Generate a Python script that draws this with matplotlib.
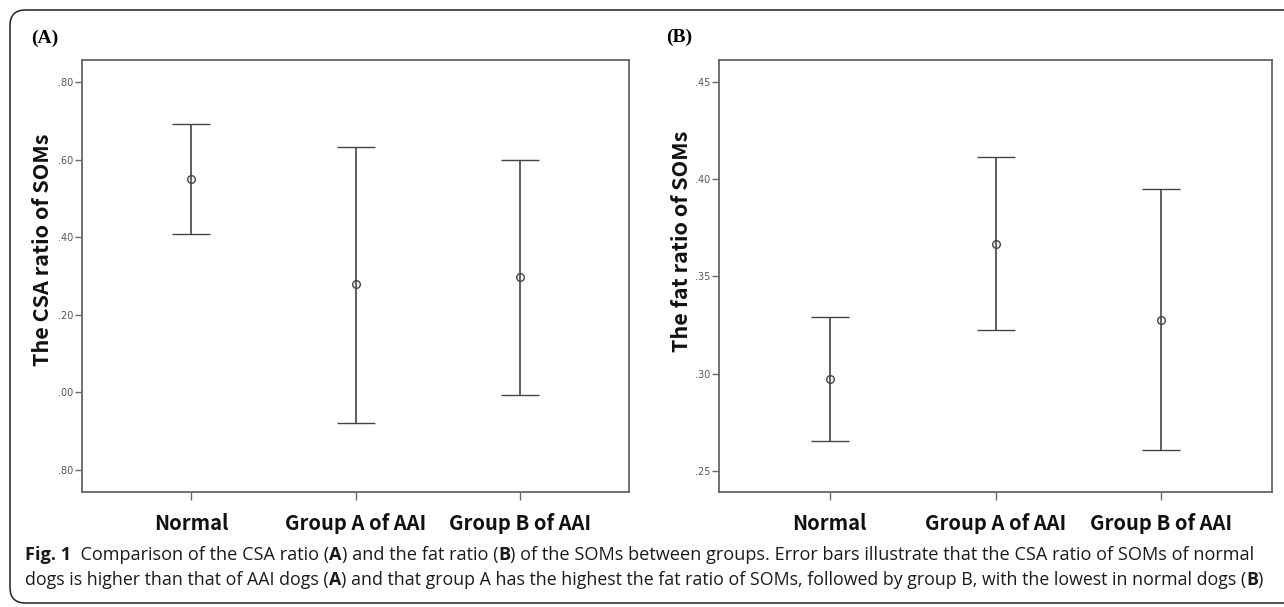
import numpy as np
import matplotlib
matplotlib.use('Agg')
import matplotlib.pyplot as plt
from matplotlib.patches import FancyBboxPatch

groups = ['Normal', 'Group A of AAI', 'Group B of AAI']

# panel A: CSA ratio (mean, lower, upper of the error bar)
csa_mean = [0.550, 0.279, 0.297]
csa_low = [0.408, -0.079, -0.007]
csa_high = [0.692, 0.632, 0.599]
csa_ticks = [-0.20, 0.00, 0.20, 0.40, 0.60, 0.80]
csa_ticklabels = ['.80', '.00', '.20', '.40', '.60', '.80']

# panel B: fat ratio
fat_mean = [0.2974, 0.3666, 0.3277]
fat_low = [0.2656, 0.3226, 0.2610]
fat_high = [0.3293, 0.4113, 0.3949]
fat_ticks = [0.25, 0.30, 0.35, 0.40, 0.45]
fat_ticklabels = ['.25', '.30', '.35', '.40', '.45']

W, H = 1284, 607
fig = plt.figure(figsize=(W / 100, H / 100), dpi=100)

# outer rounded frame
frame = FancyBboxPatch((10 / W, 4 / H), 1.2, (H - 14) / H,
                       boxstyle='round,pad=0,rounding_size=0.012',
                       transform=fig.transFigure, fill=False,
                       ec='#222222', lw=1.1, mutation_aspect=W / H)
fig.patches.append(frame)

box_col = '#666666'
bar_col = '#444444'
label_font = ['Noto Sans CJK KR', 'DejaVu Sans']


def panel(rect, mean, low, high, ticks, ticklabels, ylim):
    ax = fig.add_axes(rect)
    x = np.arange(len(groups))
    m = np.array(mean)
    yerr = [m - np.array(low), np.array(high) - m]
    ax.errorbar(x, m, yerr=yerr, fmt='o', ms=5.5, mfc='none', mec=bar_col,
                mew=1.0, ecolor=bar_col, elinewidth=1.2, capsize=13.5,
                capthick=1.2)
    ax.set_xlim(-0.6667, 2.6667)
    ax.set_ylim(*ylim)
    ax.set_yticks(ticks)
    ax.set_yticklabels(ticklabels, fontsize=7, color='#555555',
                       family='Liberation Sans Narrow')
    ax.set_xticks(x)
    ax.set_xticklabels(groups, fontsize=14.5, fontweight='bold',
                       family=label_font, color='#111111')
    ax.tick_params(axis='y', length=5, width=1.0, color=box_col, pad=1)
    ax.tick_params(axis='x', length=6, width=1.0, color=box_col, pad=9)
    for s in ax.spines.values():
        s.set_color(box_col)
        s.set_linewidth(1.3)
    return ax


panel([82 / W, 1 - 492 / H, 547 / W, 432 / H], csa_mean, csa_low, csa_high,
      csa_ticks, csa_ticklabels, (-0.257, 0.857))
panel([719 / W, 1 - 492 / H, 553 / W, 432 / H], fat_mean, fat_low, fat_high,
      fat_ticks, fat_ticklabels, (0.2392, 0.4613))

fig.text(45 / W, 1 - 38 / H, '(A)', ha='center', va='center', fontsize=14,
         fontweight='bold', family='Liberation Serif')
fig.text(679 / W, 1 - 37 / H, '(B)', ha='center', va='center', fontsize=14,
         fontweight='bold', family='Liberation Serif')

fig.text(43 / W, 1 - 250 / H, 'The CSA ratio of SOMs', rotation=90,
         ha='center', va='center', fontsize=15.5, fontweight='bold',
         family=label_font, color='#111111')
fig.text(681 / W, 1 - 241 / H, 'The fat ratio of SOMs', rotation=90,
         ha='center', va='center', fontsize=15.5, fontweight='bold',
         family=label_font, color='#111111')

# caption, written as runs of normal and bold text
cap_font = 'Open Sans'
cap_size = 12.9
line1 = [('Fig. 1', 'bold'), ('  Comparison of the CSA ratio (', 'normal'),
         ('A', 'bold'), (') and the fat ratio (', 'normal'), ('B', 'bold'),
         (') of the SOMs between groups. Error bars illustrate that the CSA '
          'ratio of SOMs of normal', 'normal')]
line2 = [('dogs is higher than that of AAI dogs (', 'normal'), ('A', 'bold'),
         (') and that group A has the highest the fat ratio of SOMs, followed '
          'by group B, with the lowest in normal dogs (', 'normal'),
         ('B', 'bold'), (')', 'normal')]

renderer = fig.canvas.get_renderer()


def write_runs(runs, x0, y0, size):
    x = x0
    for txt, wt in runs:
        t = fig.text(x / W, 1 - y0 / H, txt, ha='left', va='center',
                     fontsize=size, fontweight=wt, family=cap_font,
                     color='#1a1a1a')
        bb = t.get_window_extent(renderer)
        x += bb.width


write_runs(line1, 25, 555, 13.1)
write_runs(line2, 25, 580, 12.75)

fig.savefig('out.png', dpi=100)
